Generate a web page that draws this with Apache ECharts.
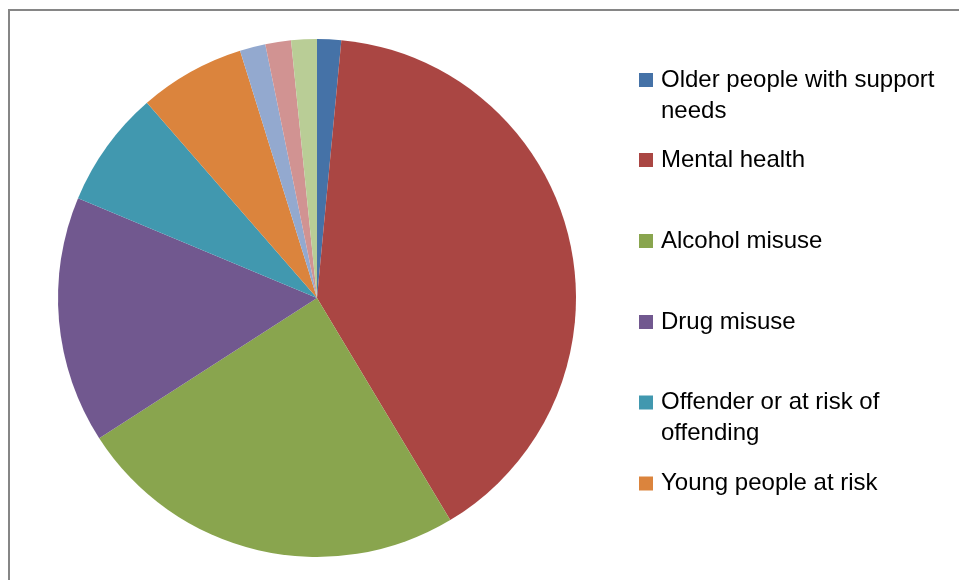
<!DOCTYPE html>
<html>
<head>
<meta charset="utf-8">
<script src="https://cdn.jsdelivr.net/npm/echarts@6/dist/echarts.min.js"></script>
<style>html,body{margin:0;padding:0;background:#fff;}#c{width:959px;height:580px;}</style>
</head>
<body>
<div id="c"></div>
<script>
var categories = ["Older people with support needs", "Mental health", "Alcohol misuse", "Drug misuse", "Offender or at risk of offending", "Young people at risk", "Other 1", "Other 2", "Other 3"];
var values = [1.5, 39.9, 24.5, 15.4, 7.3, 6.6, 1.6, 1.6, 1.6];
var colors = ["#4572A7", "#AA4643", "#89A54E", "#71588F", "#4198AF", "#DB843D", "#93A9CF", "#D19392", "#B9CD96"];
var legendLabels = [["Older people with support", "needs"], ["Mental health"], ["Alcohol misuse"], ["Drug misuse"], ["Offender or at risk of", "offending"], ["Young people at risk"]];
var legendCenters = [80, 160, 241, 322, 402.5, 483.5];

var LINE_H = 31;
var chart = echarts.init(document.getElementById('c'), null, {renderer: 'canvas'});
var legends = [];
for (var i = 0; i < legendLabels.length; i++) {
  (function (idx) {
    var lines = legendLabels[idx];
    // for two-line items, add a blank line before so the first line is centred on the icon
    var text = lines.length > 1 ? '\n' + lines.join('\n') : lines[0];
    var nLines = lines.length > 1 ? 3 : 1;
    legends.push({
      orient: 'vertical',
      left: 639,
      top: legendCenters[idx] - nLines * LINE_H / 2,
      padding: 0,
      itemWidth: 14,
      itemHeight: 14,
      icon: 'rect',
      selectedMode: false,
      data: [categories[idx]],
      formatter: function () { return text; },
      textStyle: {
        fontFamily: 'Liberation Sans',
        fontSize: 24,
        color: '#000',
        lineHeight: LINE_H,
        padding: [0, 0, 0, 3]
      }
    });
  })(i);
}
var data = categories.map(function (c, i) {
  return {name: c, value: values[i], itemStyle: {color: colors[i]}};
});
chart.setOption({
  animation: false,
  backgroundColor: '#fff',
  graphic: [{
    type: 'rect',
    shape: {x: 9, y: 10, width: 1000, height: 700},
    style: {fill: 'none', stroke: '#868686', lineWidth: 2},
    silent: true
  }],
  legend: legends,
  series: [{
    type: 'pie',
    center: [317, 298],
    radius: 259,
    startAngle: 90,
    clockwise: true,
    label: {show: false},
    labelLine: {show: false},
    itemStyle: {borderWidth: 0},
    emphasis: {disabled: true},
    data: data
  }]
});
</script>
</body>
</html>
